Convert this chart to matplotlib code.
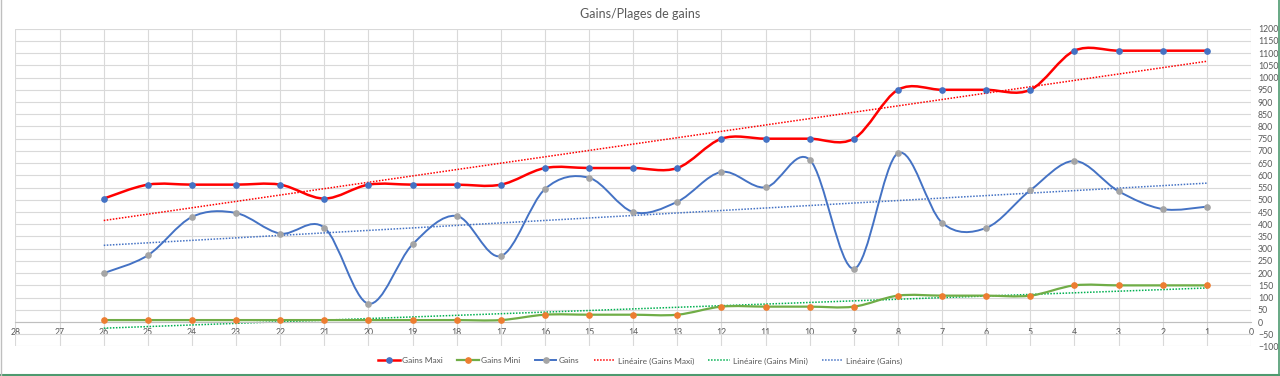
import numpy as np
import matplotlib
matplotlib.use("Agg")
import matplotlib.pyplot as plt
from matplotlib.path import Path
from matplotlib.patches import PathPatch
from matplotlib.lines import Line2D

plt.rcParams['font.family'] = ['Lato', 'DejaVu Sans']

# x positions (reversed axis, 28 on the left down to 0 on the right)
jours = list(range(26, 0, -1))

gains_maxi = [505, 562, 562, 562, 562, 505, 562, 562, 562, 562, 630, 630, 630,
              630, 750, 750, 750, 750, 950, 950, 950, 950, 1110, 1110, 1110, 1110]
gains_mini = [8, 8, 8, 8, 8, 8, 8, 8, 8, 8, 30, 30, 30,
              30, 63, 63, 63, 63, 108, 108, 108, 108, 150, 150, 150, 150]
gains = [200, 273, 430, 446, 362, 386, 75, 318, 434, 270, 544, 590, 450,
         492, 614, 551, 664, 218, 691, 406, 385, 539, 659, 535, 462, 472]

titre = "Gains/Plages de gains"


def smooth_path(xs, ys):
    # Excel-like smoothed line: Catmull-Rom as cubic Bezier segments
    pts = np.column_stack([xs, ys]).astype(float)
    n = len(pts)
    verts = [pts[0]]
    codes = [Path.MOVETO]
    for i in range(n - 1):
        p0 = pts[i - 1] if i > 0 else pts[i]
        p1 = pts[i]
        p2 = pts[i + 1]
        p3 = pts[i + 2] if i + 2 < n else pts[i + 1]
        c1 = p1 + (p2 - p0) / 6.0
        c2 = p2 - (p3 - p1) / 6.0
        verts += [c1, c2, p2]
        codes += [Path.CURVE4] * 3
    return Path(verts, codes)


fig = plt.figure(figsize=(12.8, 3.76), dpi=100)
ax = fig.add_axes([0.0121, 0.0785, 0.9652, 0.8452])

x = np.array(jours)
series = [
    (gains_maxi, '#FF0000', '#4472C4', 1.8, 'Gains Maxi'),
    (gains_mini, '#70AD47', '#ED7D31', 1.6, 'Gains Mini'),
    (gains, '#4472C4', '#A5A5A5', 1.4, 'Gains'),
]
trend_cols = ['#FF0000', '#00B050', '#4472C4']

handles = []
for (vals, lc, mc, lw, name) in series:
    ax.add_patch(PathPatch(smooth_path(x, vals), facecolor='none',
                           edgecolor=lc, lw=lw, zorder=3))
    ax.plot(x, vals, ls='none', marker='o', ms=3.8, color=mc, zorder=4)
    handles.append(Line2D([], [], color=lc, lw=lw, marker='o', ms=3.8,
                          markerfacecolor=mc, markeredgecolor=mc))

for (vals, lc, mc, lw, name), tc in zip(series, trend_cols):
    a, b = np.polyfit(x, vals, 1)
    ax.plot(x, a * x + b, ls=(0, (1, 1)), color=tc, lw=1.1, zorder=2)
    handles.append(Line2D([], [], color=tc, lw=1.1, ls=(0, (1, 1))))

labels = ['Gains Maxi', 'Gains Mini', 'Gains', 'Linéaire (Gains Maxi)',
          'Linéaire (Gains Mini)', 'Linéaire (Gains)']

ax.set_xlim(28, 0)
ax.set_ylim(-100, 1200)
ax.set_xticks(range(0, 29))
ax.set_yticks(range(-100, 1201, 50))
ax.grid(True, color='#D9D9D9', lw=0.8)
ax.set_axisbelow(True)
ax.yaxis.tick_right()
ax.tick_params(axis='both', length=0, labelsize=6.3, labelcolor='#595959')
ax.tick_params(axis='y', pad=5)
ax.tick_params(axis='x', pad=4)
ax.spines['bottom'].set_position(('data', 0))
ax.spines['bottom'].set_color('#BFBFBF')
for s in ['top', 'left', 'right']:
    ax.spines[s].set_visible(False)

fig.text(0.5, 0.962, titre, ha='center', va='center', fontsize=9, color='#595959')
fig.legend(handles, labels, loc='center', bbox_to_anchor=(0.5, 0.04), ncol=6,
           frameon=False, fontsize=6, labelcolor='#595959', handlelength=2.6,
           handletextpad=0.3, columnspacing=1.7)

# chart border (selected chart in Excel)
fig.add_artist(Line2D([0, 1], [0.003, 0.003], color='#4E9A6F', lw=1.5))
fig.add_artist(Line2D([0.999, 0.999], [0, 1], color='#4E9A6F', lw=1.2))
fig.add_artist(Line2D([0.0008, 0.0008], [0, 1], color='#BFBFBF', lw=1))

fig.savefig('out.png', dpi=100)
